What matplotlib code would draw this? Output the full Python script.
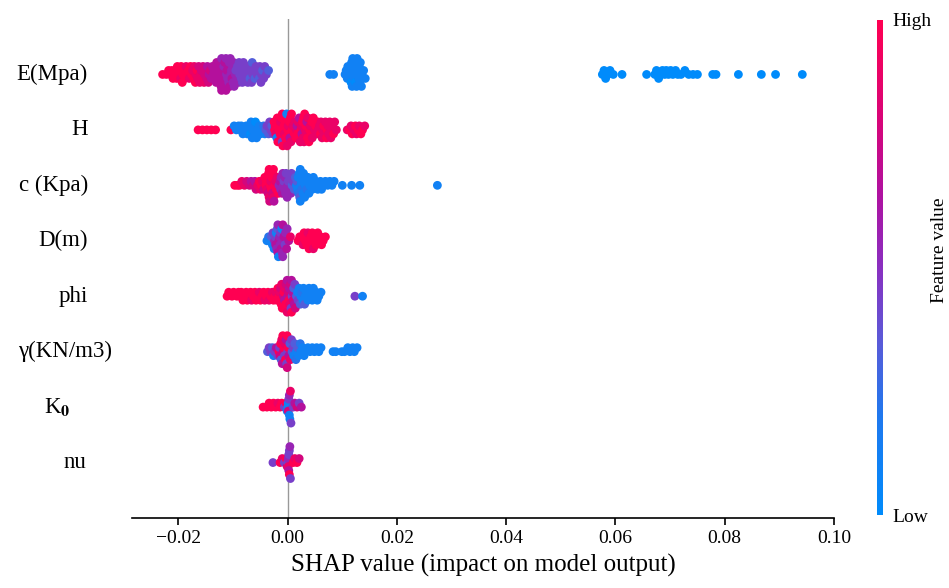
import matplotlib
matplotlib.use("Agg")
import matplotlib.pyplot as plt
import numpy as np
from matplotlib.cm import ScalarMappable
from matplotlib.colors import LinearSegmentedColormap, Normalize
from matplotlib.transforms import blended_transform_factory

plt.rcParams["font.family"] = ["Liberation Serif", "DejaVu Serif"]
plt.rcParams["mathtext.fontset"] = "stix"

FEATURES = ["E(Mpa)", "H", "c (Kpa)", "D(m)", "phi", "γ(KN/m3)", r"K$_{\mathbf{0}}$", "nu"]
# right edge of each feature label, in pixels from the figure's left side
LABEL_RIGHT_PX = [88, 88, 88, 88, 88, 112, 70, 86]

# points per feature: (SHAP value in units of 1e-4, feature value 0 = low .. 9 = high)
E_MPA = [
    (-229, 9),
    (-222, 9), (-218, 9),
    (-215, 9), (-212, 9), (-210, 9),
    (-207, 9), (-205, 9), (-203, 9), (-202, 9),
    (-200, 9), (-198, 9), (-196, 8), (-195, 9), (-193, 9),
    (-192, 9), (-190, 9), (-188, 9), (-186, 8),
    (-184, 9), (-182, 9), (-180, 8), (-178, 9),
    (-176, 9), (-174, 8), (-172, 9), (-171, 8), (-169, 9),
    (-168, 8), (-166, 9), (-165, 8), (-163, 7), (-161, 8),
    (-160, 8), (-158, 7), (-156, 8), (-155, 7), (-153, 8),
    (-152, 7), (-150, 7), (-148, 7), (-147, 6), (-145, 7),
    (-144, 6), (-142, 7), (-140, 6), (-138, 6),
    (-136, 6), (-135, 6), (-134, 6), (-133, 6), (-131, 6), (-130, 6),
    (-128, 6), (-127, 6), (-126, 6), (-125, 6), (-124, 6), (-123, 6), (-122, 6), (-121, 5), (-121, 6),
    (-120, 6), (-119, 6), (-118, 6), (-117, 5), (-116, 6), (-115, 6), (-114, 6), (-113, 5), (-113, 6),
    (-112, 5), (-111, 6), (-110, 5), (-109, 6), (-108, 5), (-107, 5), (-106, 6), (-105, 5),
    (-104, 5), (-103, 5), (-102, 6), (-101, 5), (-100, 5), (-99, 5), (-98, 5),
    (-96, 5), (-95, 4), (-93, 5), (-92, 4), (-90, 5), (-89, 4),
    (-88, 4), (-87, 4), (-85, 4), (-84, 4), (-83, 4), (-81, 4),
    (-80, 4), (-78, 4), (-77, 4), (-75, 4), (-73, 4),
    (-72, 4), (-71, 4), (-69, 3), (-68, 4), (-66, 4), (-65, 3),
    (-64, 4), (-62, 4), (-60, 3), (-58, 4),
    (-56, 4), (-54, 4), (-52, 3), (-51, 4), (-49, 4),
    (-48, 4), (-46, 3), (-44, 4), (-42, 4),
    (-39, 4), (-35, 3),
    (77, 1), (84, 1),
    (105, 1), (107, 1), (109, 1), (110, 1),
    (112, 1), (113, 1), (114, 1), (115, 1), (116, 0), (117, 1), (118, 1), (119, 1),
    (120, 1), (121, 1), (122, 1), (123, 1), (124, 0), (125, 1), (126, 1), (127, 1),
    (128, 1), (129, 1), (130, 1), (131, 1), (132, 1), (133, 1), (135, 1),
    (136, 1), (139, 1), (142, 1),
    (576, 0), (579, 0), (582, 0), (586, 0), (590, 0), (596, 0), (612, 0),
    (657, 0), (672, 0), (675, 0), (679, 0), (683, 0), (686, 0), (690, 0),
    (693, 0), (697, 0), (701, 0), (705, 0), (710, 0), (714, 0), (720, 0),
    (727, 0), (734, 0), (742, 0), (750, 0), (778, 0), (784, 0),
    (825, 0), (867, 0), (893, 0), (942, 0),
]

H = [
    (-164, 9), (-156, 9), (-148, 9), (-140, 9), (-132, 9),
    (-104, 9), (-98, 1),
    (-94, 1), (-90, 1),
    (-87, 1), (-85, 1), (-82, 1),
    (-79, 1), (-76, 1), (-74, 1),
    (-72, 1), (-70, 1), (-68, 0), (-67, 1), (-65, 1),
    (-64, 1), (-62, 1), (-60, 1), (-59, 0), (-57, 1),
    (-55, 1), (-52, 1), (-50, 1),
    (-47, 1), (-44, 2), (-42, 1),
    (-40, 3), (-38, 4), (-35, 3), (-33, 4),
    (-31, 4), (-29, 3), (-27, 4), (-25, 9),
    (-24, 9), (-23, 9), (-22, 8), (-21, 9), (-20, 1), (-19, 9), (-18, 9),
    (-16, 9), (-15, 9), (-14, 9), (-13, 8), (-12, 9), (-11, 9), (-10, 4), (-10, 9), (-9, 9),
    (-8, 9), (-7, 9), (-6, 8), (-5, 9), (-4, 9), (-3, 9), (-2, 9), (-2, 1), (-1, 8),
    (0, 9), (1, 8), (2, 9), (3, 9), (4, 6), (5, 9), (6, 8), (7, 9),
    (8, 9), (10, 8), (12, 9), (13, 8), (15, 9),
    (16, 8), (17, 6), (18, 9), (19, 8), (20, 9), (21, 6), (23, 8),
    (24, 9), (25, 8), (26, 6), (27, 9), (28, 8), (29, 9), (30, 8), (31, 9),
    (32, 8), (33, 9), (34, 8), (35, 6), (36, 9), (37, 8), (39, 9),
    (40, 9), (41, 8), (43, 9), (44, 9), (45, 8), (47, 9),
    (49, 8), (51, 9), (53, 8), (55, 9),
    (56, 8), (58, 8), (60, 9), (61, 8), (63, 8),
    (64, 8), (66, 9), (68, 8), (69, 8), (71, 9),
    (72, 9), (74, 8), (75, 8), (77, 8), (79, 8),
    (80, 8), (82, 8), (84, 9), (86, 8),
    (89, 8),
    (109, 8),
    (113, 9), (116, 8), (118, 9),
    (121, 8), (124, 9), (126, 8),
    (129, 9), (131, 8), (134, 9),
    (137, 9), (141, 8),
]

C_KPA = [
    (-97, 9), (-92, 9), (-88, 9), (-84, 8), (-79, 8), (-75, 7),
    (-70, 7), (-67, 6),
    (-63, 7), (-60, 6), (-58, 7),
    (-55, 8), (-52, 9), (-50, 8),
    (-48, 9), (-46, 8), (-44, 7), (-42, 9),
    (-40, 9), (-39, 9), (-38, 8), (-37, 9), (-36, 7), (-35, 9), (-34, 8), (-34, 9), (-33, 7),
    (-32, 9), (-31, 8), (-30, 9), (-29, 9), (-28, 7), (-27, 9), (-26, 8), (-26, 9), (-25, 6),
    (-24, 9), (-22, 8), (-21, 9), (-19, 8), (-17, 9),
    (-16, 5), (-14, 6), (-13, 5), (-12, 5), (-10, 6), (-9, 5),
    (-8, 5), (-7, 4), (-6, 5), (-5, 5), (-4, 5), (-3, 4), (-1, 5),
    (0, 5), (1, 4), (3, 5), (4, 4), (6, 5), (7, 4),
    (8, 3), (10, 4), (12, 3), (14, 3),
    (16, 1), (17, 3), (18, 1), (19, 1), (20, 2), (21, 1), (22, 3), (23, 1), (23, 1),
    (24, 1), (25, 1), (26, 2), (27, 1), (28, 1), (29, 1), (31, 1),
    (32, 1), (34, 1), (35, 2), (37, 1), (39, 1),
    (40, 1), (43, 1), (45, 1), (47, 1),
    (49, 1), (52, 1), (55, 1),
    (57, 1), (60, 1), (62, 1),
    (65, 1), (69, 1),
    (73, 1), (77, 1),
    (81, 1), (85, 1),
    (100, 1), (117, 1), (132, 1),
    (274, 1),
]

D_M = [
    (-38, 1), (-35, 2),
    (-32, 1), (-30, 3), (-28, 1), (-27, 4), (-25, 1),
    (-24, 5), (-23, 4), (-22, 6), (-21, 1), (-20, 5), (-19, 3), (-18, 6), (-18, 5), (-17, 1),
    (-16, 6), (-15, 5), (-14, 5), (-13, 4), (-12, 6), (-11, 1), (-10, 5), (-9, 6), (-9, 5),
    (-8, 5), (-7, 6), (-5, 4), (-4, 5), (-2, 6), (-1, 5),
    (2, 6), (5, 8),
    (19, 9), (22, 9),
    (24, 9), (26, 9), (28, 8), (30, 9),
    (32, 9), (34, 9), (35, 9), (37, 8), (39, 9),
    (40, 9), (42, 9), (43, 9), (45, 9), (47, 8),
    (48, 9), (50, 9), (52, 9), (55, 9),
    (57, 9), (60, 9), (62, 9),
    (65, 9), (69, 9),
]

PHI = [
    (-111, 9), (-108, 9), (-102, 9), (-99, 9),
    (-93, 9), (-90, 9),
    (-87, 9), (-85, 9), (-82, 9),
    (-79, 9), (-76, 9), (-74, 9),
    (-71, 9), (-68, 9), (-66, 8),
    (-63, 9), (-60, 9), (-58, 9),
    (-55, 9), (-52, 8), (-50, 9),
    (-47, 9), (-44, 9), (-42, 8),
    (-39, 9), (-36, 9), (-34, 8),
    (-31, 9), (-28, 8), (-26, 9),
    (-24, 9), (-22, 8), (-20, 9), (-18, 9),
    (-16, 9), (-15, 8), (-14, 9), (-13, 7), (-12, 9), (-11, 8), (-10, 9),
    (-8, 7), (-7, 9), (-6, 6), (-5, 8), (-4, 9), (-3, 7), (-2, 9), (-1, 6), (-1, 8),
    (0, 6), (1, 7), (2, 9), (3, 6), (4, 8), (5, 7), (6, 4), (7, 6), (7, 9),
    (8, 4), (9, 6), (10, 7), (11, 3), (12, 6), (13, 4), (14, 7),
    (16, 3), (18, 1), (19, 4), (21, 1), (23, 3),
    (24, 1), (26, 2), (28, 1), (29, 1), (31, 3),
    (32, 1), (34, 1), (37, 1), (39, 1),
    (40, 1), (42, 1), (45, 1), (47, 1),
    (49, 1), (52, 1), (54, 1),
    (57, 1), (61, 1),
    (123, 4), (137, 1),
]

GAMMA = [
    (-37, 3), (-34, 4),
    (-31, 4), (-28, 3), (-26, 1),
    (-24, 4), (-21, 6), (-18, 4),
    (-16, 9), (-15, 4), (-14, 7), (-13, 9), (-12, 3), (-11, 8), (-10, 6), (-9, 9),
    (-8, 7), (-7, 9), (-6, 4), (-5, 8), (-4, 9), (-3, 6), (-2, 4), (-1, 9), (-1, 7),
    (0, 4), (1, 9), (2, 6), (4, 3), (5, 8), (7, 4),
    (8, 3), (10, 4), (11, 1), (13, 3), (15, 2),
    (16, 1), (18, 3), (20, 1), (23, 2),
    (24, 1), (27, 1), (30, 1),
    (33, 1), (37, 1),
    (41, 1), (45, 1),
    (49, 1), (53, 1),
    (57, 1), (61, 1),
    (83, 1), (88, 1), (99, 1), (104, 1), (110, 1), (114, 1), (119, 1), (122, 1), (127, 1),
]

K0 = [
    (-45, 9), (-38, 9), (-34, 9), (-30, 9), (-26, 9), (-22, 9), (-18, 8), (-14, 9), (-11, 9),
    (-6, 4), (-3, 9), (-1, 1),
    (0, 1), (1, 1), (1, 7), (2, 4), (3, 1), (3, 5), (4, 1), (5, 8), (6, 4),
    (10, 4), (13, 6),
    (17, 7), (21, 4), (25, 6),
]

NU = [
    (-27, 4),
    (-14, 9), (-10, 8),
    (-6, 4), (-3, 9), (-1, 7),
    (0, 4), (1, 5), (1, 8), (2, 4), (2, 6), (3, 4), (3, 9), (4, 5), (5, 4),
    (10, 9), (13, 8),
    (17, 9), (21, 7),
]

ROWS = [E_MPA, H, C_KPA, D_M, PHI, GAMMA, K0, NU]
XTICKS = [-0.02, 0.0, 0.02, 0.04, 0.06, 0.08, 0.10]
XTICK_LABELS = ["\u22120.02", "0.00", "0.02", "0.04", "0.06", "0.08", "0.10"]

red_blue = LinearSegmentedColormap.from_list(
    "red_blue",
    [
        (0.0, "#008bfb"),
        (0.2, "#1f78ee"),
        (0.35, "#5a5ad8"),
        (0.5, "#8a2fc0"),
        (0.65, "#b011a0"),
        (0.8, "#d80478"),
        (1.0, "#ff0052"),
    ],
)


def swarm_offsets(vals, width=8, row_height=0.4):
    # stack points that fall in the same bin, alternating above/below the row
    bins = np.floor(vals / width)
    order = np.argsort(bins, kind="stable")
    ys = np.zeros(len(vals))
    layer, last = 0, None
    for i in order:
        if bins[i] != last:
            layer = 0
        ys[i] = np.ceil(layer / 2) * ((layer % 2) * 2 - 1)
        layer += 1
        last = bins[i]
    ys *= 0.9 * (row_height / np.max(ys + 1))
    return ys


W, Hpx = 949, 588
fig = plt.figure(figsize=(W / 100, Hpx / 100), dpi=100)
ax = fig.add_axes([132 / W, 70 / Hpx, 702 / W, 499 / Hpx])

ax.axvline(0, color="#999999", lw=1, zorder=-1)

n = len(FEATURES)
for i, pts in enumerate(ROWS):
    pos = n - 1 - i
    arr = np.array(pts, dtype=float)
    vals = arr[:, 0]
    ys = swarm_offsets(vals)
    ax.scatter(vals * 1e-4, pos + ys, c=arr[:, 1] / 9, cmap=red_blue,
               vmin=0, vmax=1, s=40, linewidths=0, zorder=2)

trans = blended_transform_factory(ax.transAxes, ax.transData)
for i, (name, right_px) in enumerate(zip(FEATURES, LABEL_RIGHT_PX)):
    ax.text((right_px - 132) / 702, n - 1 - i, name, transform=trans,
            ha="right", va="center", fontsize=16.5)

ax.set_ylim(-1, n)
ax.set_yticks([])
ax.set_xlim(-0.0285, 0.1)
ax.set_xticks(XTICKS)
ax.set_xticklabels(XTICK_LABELS)
ax.tick_params(axis="x", labelsize=14, length=5, width=1.2, color="black")
for side in ["top", "right", "left"]:
    ax.spines[side].set_visible(False)
ax.spines["bottom"].set_linewidth(1.2)
ax.set_xlabel("SHAP value (impact on model output)", fontsize=18, labelpad=5)

cax = fig.add_axes([877 / W, (Hpx - 515) / Hpx, 6 / W, 495 / Hpx])
cb = fig.colorbar(ScalarMappable(norm=Normalize(0, 1), cmap=red_blue), cax=cax, ticks=[0, 1])
cb.set_ticklabels(["Low", "High"])
cb.ax.tick_params(labelsize=14, length=0, pad=7)
cb.outline.set_visible(False)
fig.text(940 / W, 1 - 250 / Hpx, "Feature value", rotation=90,
         ha="center", va="center", fontsize=14)

fig.savefig("out.png", dpi=100)
